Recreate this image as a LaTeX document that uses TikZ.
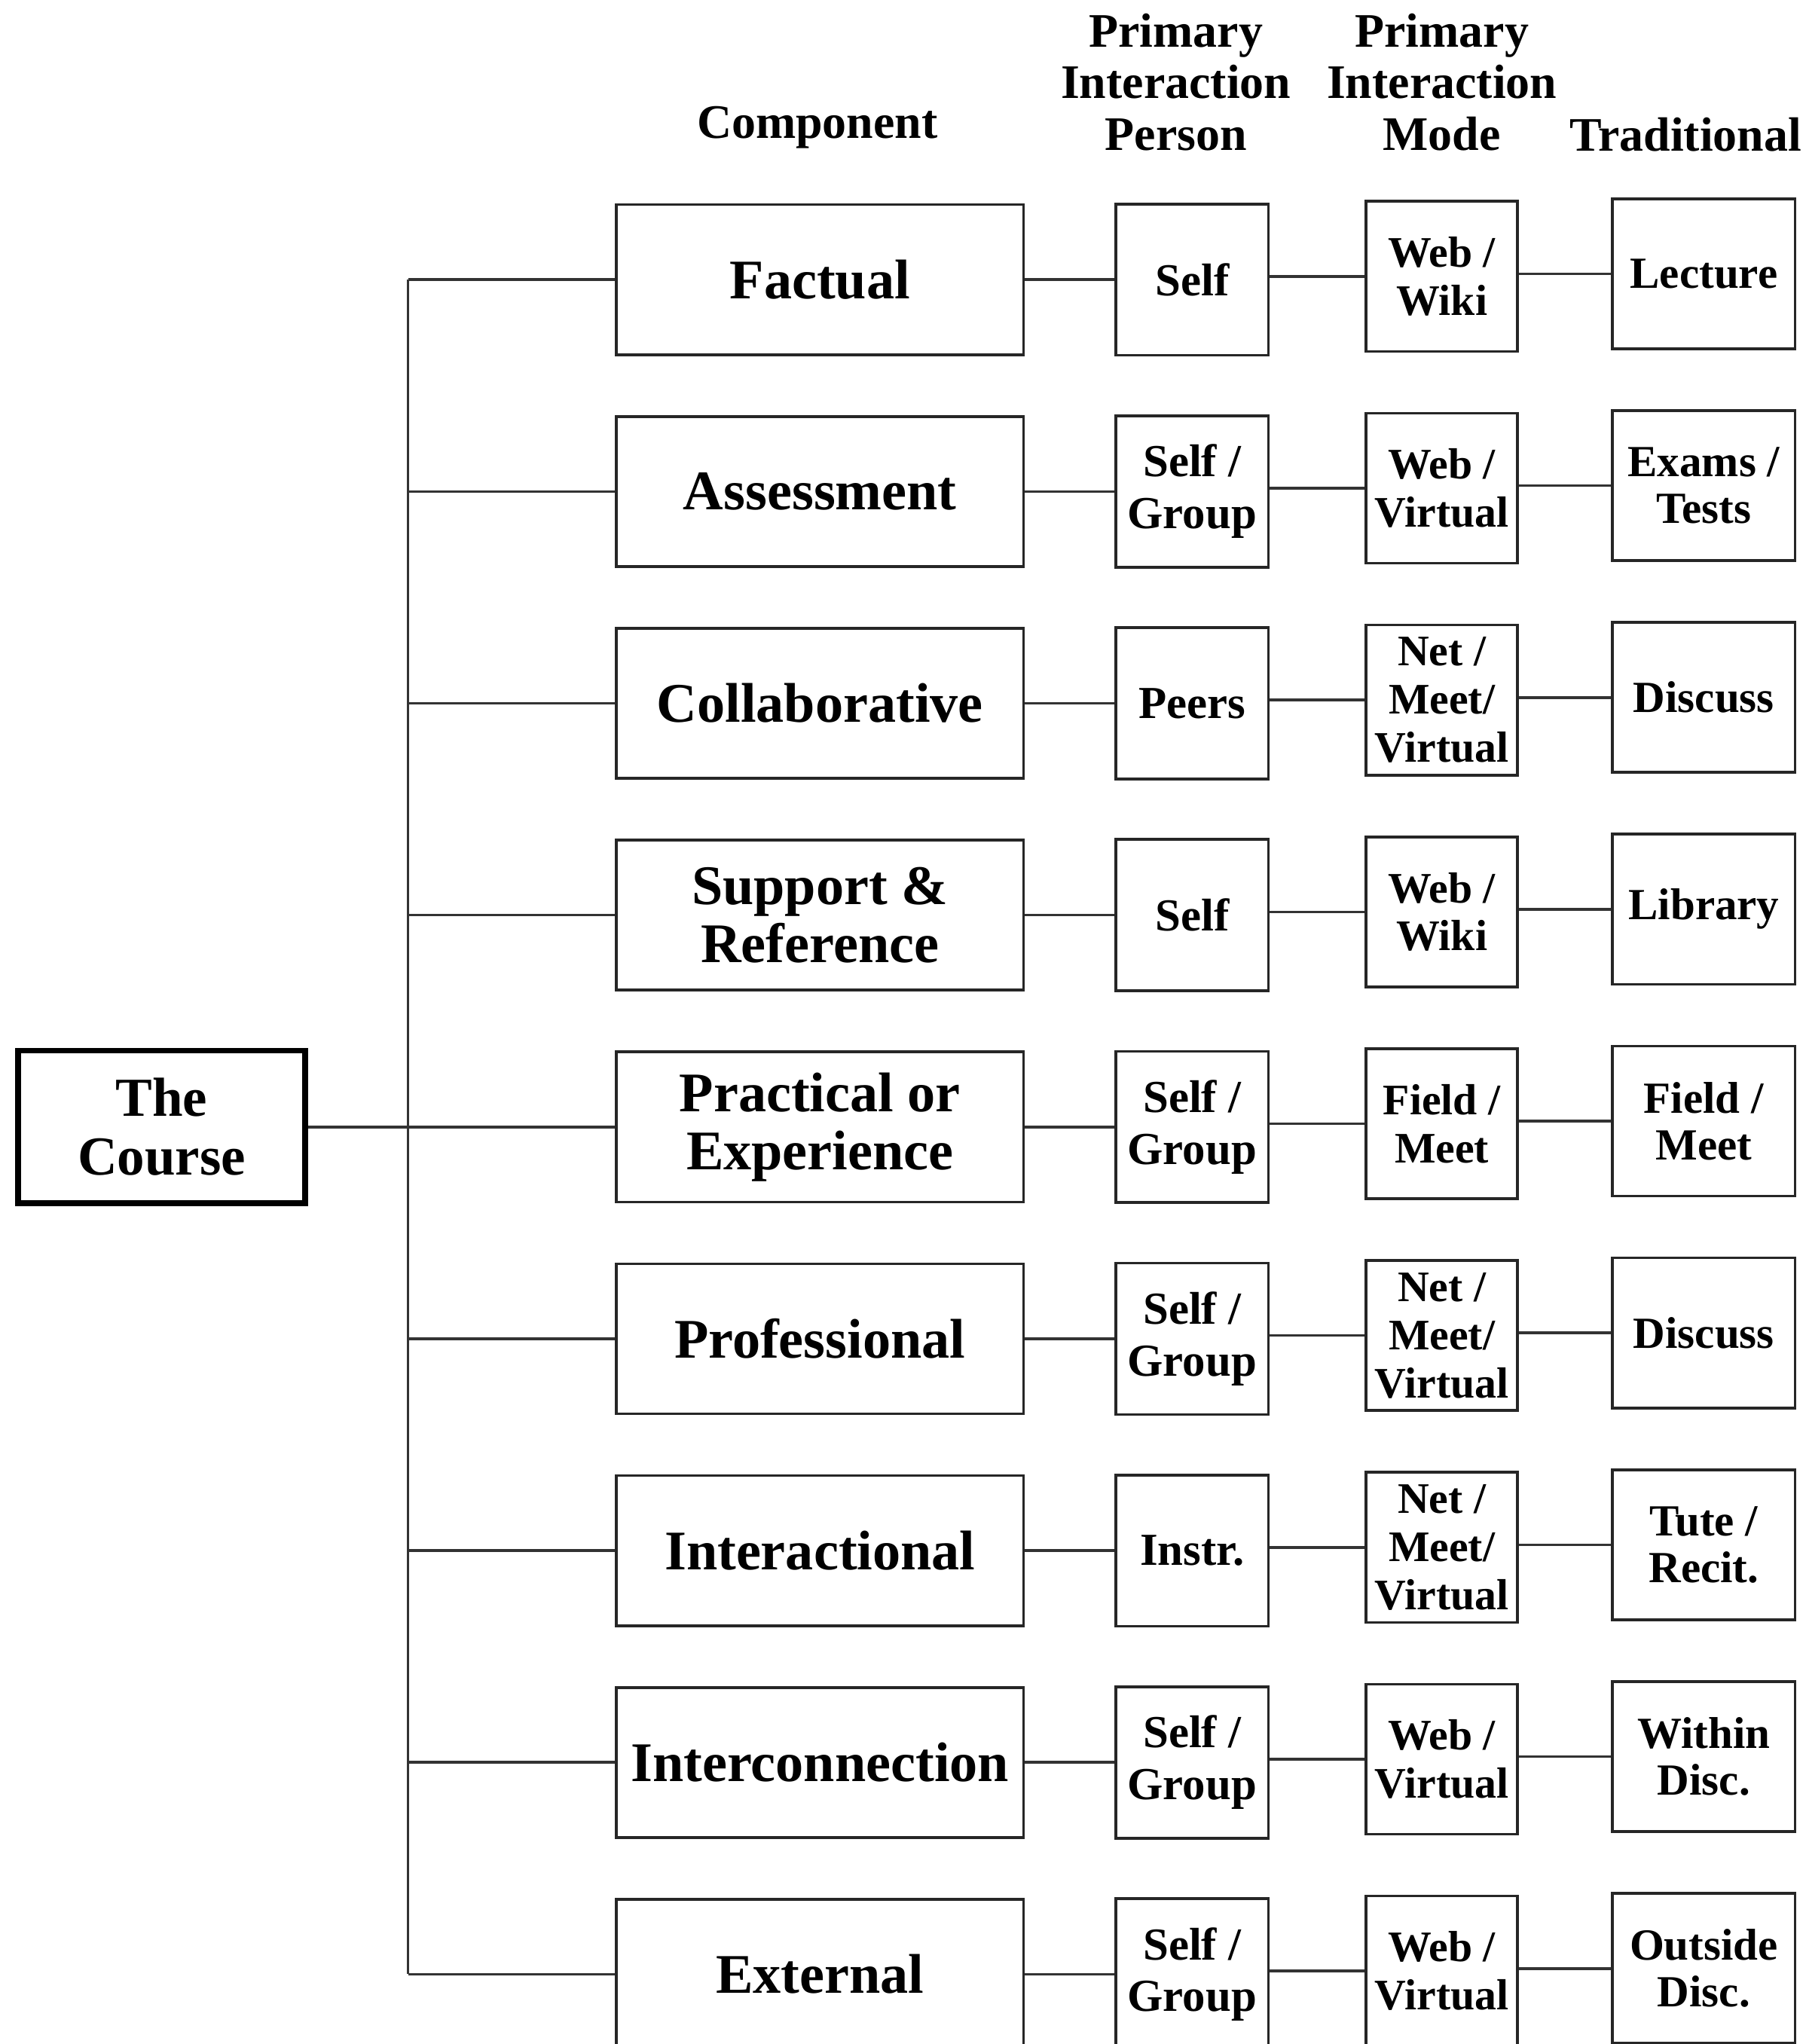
\documentclass[tikz,border=0pt]{standalone}
\usepackage{fontspec}
\setmainfont{Liberation Serif}
\usepackage{tikz}
\usetikzlibrary{calc}

\tikzset{
  box/.style={draw=black!85, line width=0.6pt, align=center, inner sep=1pt, font=\bfseries},
  compbox/.style={box, minimum width=3.12cm, minimum height=1.15cm, font=\fontsize{12.2}{12.6}\selectfont\bfseries},
  persbox/.style={box, minimum width=1.17cm, minimum height=1.16cm, font=\fontsize{10}{11.3}\selectfont\bfseries},
  modebox/.style={box, minimum width=1.16cm, minimum height=1.15cm, font=\fontsize{9.5}{10.5}\selectfont\bfseries},
  tradbox/.style={box, minimum width=1.40cm, minimum height=1.15cm, font=\fontsize{9.7}{10.2}\selectfont\bfseries},
  coursebox/.style={draw, line width=1.3pt, align=center, minimum width=2.2cm, minimum height=1.17cm, font=\fontsize{12}{12.8}\selectfont\bfseries},
  head/.style={align=center, inner sep=0pt, font=\fontsize{10.5}{11.3}\selectfont\bfseries},
  link/.style={draw=black!80, line width=0.6pt}
}

\begin{document}
\begin{tikzpicture}[x=0.01cm, y=-0.01cm]
  \useasboundingbox (0,0) rectangle (1385,1568);

  % column headings
  \node[head] (hcomp) at (627,98) {Component};
  \node[head] (hpers) at (902,63) {Primary\\Interaction\\Person};
  \node[head] (hmode) at (1106,63) {Primary\\Interaction\\Mode};
  \node[head] (htrad) at (1293,103) {Traditional};

  % root
  \node[coursebox] (course) at (124,864.5) {The\\Course};
  \coordinate (trunk) at (313,0);

  % one row per component
  \foreach \i/\comp/\pers/\mode/\trad in {
      1/Factual/Self/{Web /\\Wiki}/Lecture,
      2/Assessment/{Self /\\Group}/{Web /\\Virtual}/{Exams /\\Tests},
      3/Collaborative/Peers/{Net /\\Meet/\\Virtual}/Discuss,
      4/{Support \&\\Reference}/Self/{Web /\\Wiki}/Library,
      5/{Practical or\\Experience}/{Self /\\Group}/{Field /\\Meet}/{Field /\\Meet},
      6/Professional/{Self /\\Group}/{Net /\\Meet/\\Virtual}/Discuss,
      7/Interactional/Instr./{Net /\\Meet/\\Virtual}/{Tute /\\Recit.},
      8/Interconnection/{Self /\\Group}/{Web /\\Virtual}/{Within\\Disc.},
      9/External/{Self /\\Group}/{Web /\\Virtual}/{Outside\\Disc.}} {
    \pgfmathsetmacro{\rowy}{214.5+(\i-1)*162.5}
    \node[compbox] (c\i) at (629,\rowy) {\comp};
    \node[persbox] (p\i) at (914.5,\rowy) {\pers};
    \node[modebox] (m\i) at (1106,\rowy-2.5) {\mode};
    \node[tradbox] (t\i) at (1307,\rowy-4.5) {\trad};
    \draw[link] (trunk |- c\i.west) -- (c\i.west);
    \draw[link] (c\i.east) -- (p\i.west);
    \draw[link] (p\i.east |- m\i.west) -- (m\i.west);
    \draw[link] (m\i.east |- t\i.west) -- (t\i.west);
  }

  \draw[link] (trunk |- c1.west) -- (trunk |- c9.west);
  \draw[link] (course.east) -- (trunk |- course.east);
\end{tikzpicture}
\end{document}
